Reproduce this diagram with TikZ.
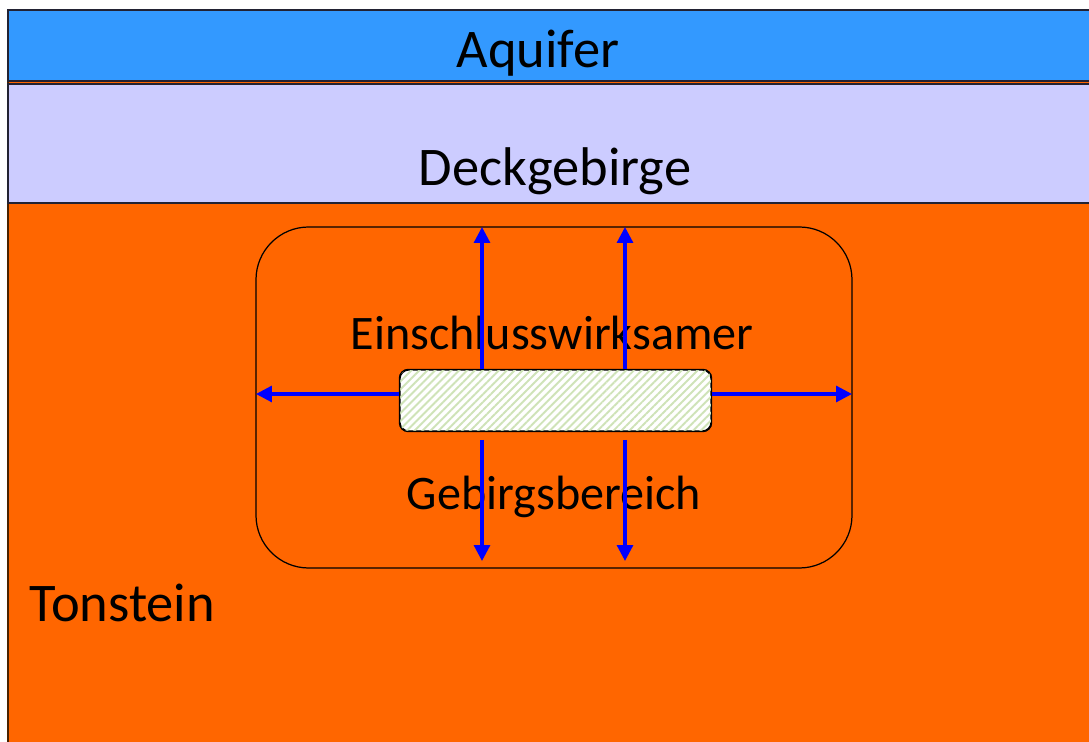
\documentclass[tikz,border=0pt]{standalone}
\usepackage{fontspec}
\setmainfont{Carlito}
\usetikzlibrary{arrows.meta,patterns.meta}
\definecolor{aquablue}{HTML}{3399FF}
\definecolor{lavender}{HTML}{CCCCFF}
\definecolor{tonorange}{HTML}{FF6600}
\definecolor{edgedark}{HTML}{222233}
\definecolor{edgebrown}{HTML}{4A2200}
\definecolor{arrowblue}{HTML}{0000FF}
\definecolor{hatchgreen}{HTML}{CFE3B8}
\tikzset{
  band/.style={draw=edgedark, line width=1.2pt},
  label/.style={font=\fontsize{31}{36}\selectfont, inner sep=0pt},
  zonelabel/.style={font=\fontsize{27.4}{32}\selectfont, inner sep=0pt},
  flow/.style={draw=arrowblue, line width=1.8pt, -{Triangle[length=9pt,width=9pt]}},
}
\begin{document}
\begin{tikzpicture}[x=0.02cm,y=-0.02cm]
\useasboundingbox (0,0) rectangle (1089,742);
\fill[white] (0,0) rectangle (1089,742);
% Tonstein background
\fill[tonorange] (8,10) rectangle (1089,742);
\draw[edgebrown, line width=1.2pt] (8,10) -- (8,742);
% Aquifer band
\draw[band, fill=aquablue] (8,10) rectangle (1095,81);
% Deckgebirge band
\draw[band, fill=lavender] (8,84) rectangle (1095,203);
\node[label] (aquifer) at (538,53) {Aquifer};
\node[label] (deck) at (555,171) {Deckgebirge};
\node[label, anchor=west] (ton) at (29,603) {Tonstein};
% containment zone
\draw[black, line width=0.7pt, rounded corners=30pt] (256,227) rectangle (852,568);
\coordinate (zt1) at (482,227);
\coordinate (zt2) at (625,227);
\coordinate (zb1) at (482,561);
\coordinate (zb2) at (625,561);
\coordinate (zl) at (256,394);
\coordinate (zr) at (852,394);
\coordinate (sb1) at (482,440);
\coordinate (sb2) at (625,440);
\node[zonelabel] (ewg1) at (552,333) {Einschlusswirksamer};
\node[zonelabel] (ewg2) at (554,497) {Gebirgsbereich};
% repository box
\node[draw=black, line width=0.7pt, rounded corners=5pt, fill=white, minimum width=311*0.02cm, minimum height=61*0.02cm, inner sep=0pt] (repo) at (555.5,400.5) {};
\fill[pattern={Lines[angle=45,distance=3.2pt,line width=1.1pt]}, pattern color=hatchgreen, rounded corners=5pt] (repo.south west) rectangle (repo.north east);
\draw[black, line width=0.7pt, rounded corners=5pt] (repo.south west) rectangle (repo.north east);
% arrows
\draw[flow] (repo.north -| zt1) -- (zt1);
\draw[flow] (repo.north -| zt2) -- (zt2);
\draw[flow] (sb1) -- (zb1);
\draw[flow] (sb2) -- (zb2);
\draw[flow] (repo.west |- zl) -- (zl);
\draw[flow] (repo.east |- zr) -- (zr);
\end{tikzpicture}
\end{document}
